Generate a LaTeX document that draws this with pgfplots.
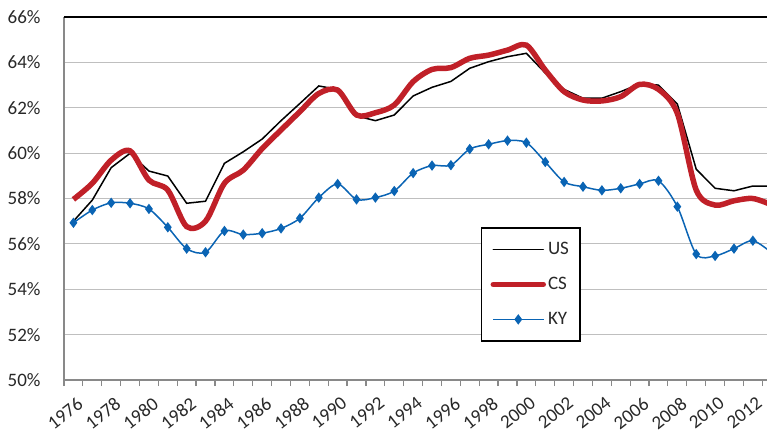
\documentclass[border=0pt]{standalone}
\usepackage{pgfplots}
\pgfplotsset{compat=1.18}
\usepackage{fontspec}
\setmainfont{Carlito}
\definecolor{csred}{RGB}{192,32,40}
\definecolor{kyblue}{RGB}{10,100,180}
\definecolor{axgray}{RGB}{137,137,137}
\definecolor{txt}{RGB}{40,40,40}
\pgfplotsset{
  lineleg/.style={legend image code/.code={\path[draw=none, fill=none] (0pt,-10pt) rectangle (50pt,10pt); \draw[##1, line cap=round] (0pt,0pt) -- (50pt,0pt);}},
  markleg/.style={legend image code/.code={\path[draw=none, fill=none] (0pt,-10pt) rectangle (50pt,10pt); \draw[mark repeat=2, mark phase=2, ##1] plot coordinates {(0pt,0pt) (25pt,0pt) (50pt,0pt)};}},
}
\begin{document}
\begin{tikzpicture}
\begin{axis}[
  at={(0,0)}, anchor=south west,
  width=703pt, height=363pt, scale only axis,
  xmin=1975.5, xmax=2012.75,
  ymin=50, ymax=66,
  axis lines*=left,
  axis line style={axgray, line width=1.4pt, -},
  ytick={50,52,...,66},
  yticklabels={50\%,52\%,54\%,56\%,58\%,60\%,62\%,64\%,66\%},
  ymajorgrids,
  grid style={black!25, line width=1.2pt},
  ytick style={draw=none},
  xtick={1976,1978,...,2012},
  xticklabels={1976,1978,1980,1982,1984,1986,1988,1990,1992,1994,1996,1998,2000,2002,2004,2006,2008,2010,2012},
  minor xtick={1975.5,1976.5,...,2012.5},
  major x tick style={draw=none},
  minor x tick style={axgray, line width=1.2pt},
  minor tick length=6pt,
  tick align=outside,
  tick label style={font=\fontsize{19}{22}\selectfont, text=txt},
  yticklabel style={inner sep=0pt, xshift=-19pt},
  xticklabel style={rotate=38, anchor=north east, inner sep=0pt, xshift=-5pt, yshift=-11pt},
  clip=true,
  legend style={at={(0.593,0.4207)}, anchor=north west, draw=black, line width=1.3pt,
    font=\fontsize{19}{22}\selectfont, text=txt,
    inner xsep=9pt, inner ysep=11.5pt, row sep=15pt,
    /tikz/every even column/.append style={column sep=0pt}},
  legend cell align=left,
]
\draw[black, line width=1.3pt] (rel axis cs:0,1) -- (rel axis cs:1,1);
\addplot[black, line width=1.5pt, mark=none, lineleg] coordinates {
(1976,57.0)(1977,57.93)(1978,59.36)(1979,59.99)(1980,59.21)(1981,58.99)(1982,57.79)(1983,57.88)
(1984,59.55)(1985,60.06)(1986,60.62)(1987,61.43)(1988,62.19)(1989,62.96)(1990,62.81)(1991,61.64)
(1992,61.43)(1993,61.68)(1994,62.52)(1995,62.90)(1996,63.16)(1997,63.74)(1998,64.03)(1999,64.25)
(2000,64.40)(2001,63.53)(2002,62.81)(2003,62.42)(2004,62.42)(2005,62.71)(2006,63.05)(2007,63.00)
(2008,62.16)(2009,59.29)(2010,58.45)(2011,58.34)(2012,58.55)(2013,58.55)};
\addlegendentry{US}
\addplot[csred, line width=5.5pt, smooth, mark=none, lineleg] coordinates {
(1976,57.96)(1977,58.67)(1978,59.69)(1979,60.10)(1980,58.81)(1981,58.37)(1982,56.76)(1983,57.00)
(1984,58.67)(1985,59.25)(1986,60.20)(1987,61.02)(1988,61.83)(1989,62.63)(1990,62.78)(1991,61.68)
(1992,61.78)(1993,62.12)(1994,63.15)(1995,63.69)(1996,63.77)(1997,64.18)(1998,64.32)(1999,64.54)
(2000,64.76)(2001,63.66)(2002,62.71)(2003,62.34)(2004,62.30)(2005,62.49)(2006,63.03)(2007,62.81)
(2008,61.75)(2009,58.37)(2010,57.71)(2011,57.90)(2012,58.00)(2013,57.72)};
\addlegendentry{CS}
\addplot[kyblue, line width=1.5pt, smooth, mark=diamond*, mark size=4pt, mark options={solid}, markleg] coordinates {
(1976,56.93)(1977,57.49)(1978,57.81)(1979,57.79)(1980,57.54)(1981,56.73)(1982,55.79)(1983,55.63)
(1984,56.57)(1985,56.41)(1986,56.47)(1987,56.68)(1988,57.13)(1989,58.04)(1990,58.64)(1991,57.96)
(1992,58.04)(1993,58.33)(1994,59.12)(1995,59.45)(1996,59.47)(1997,60.18)(1998,60.39)(1999,60.55)
(2000,60.46)(2001,59.61)(2002,58.73)(2003,58.52)(2004,58.36)(2005,58.45)(2006,58.64)(2007,58.78)
(2008,57.64)(2009,55.55)(2010,55.47)(2011,55.79)(2012,56.14)(2013,55.60)};
\addlegendentry{KY}
\end{axis}
\pgfresetboundingbox
\path (-64pt,-54pt) rectangle (703pt,380pt);
\end{tikzpicture}
\end{document}
